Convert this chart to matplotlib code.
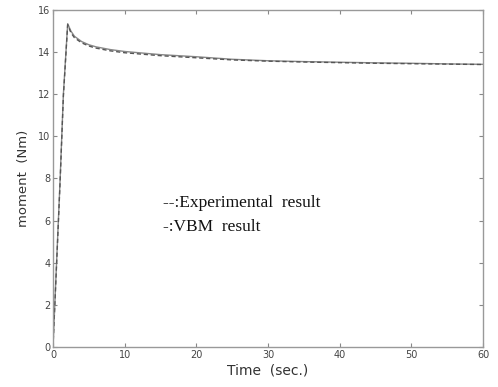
import matplotlib
matplotlib.use("Agg")
import matplotlib.pyplot as plt

t = [0, 0.5, 1.0, 1.45, 2.05, 2.5, 3, 4, 5, 6, 8, 10, 15, 20, 25, 30, 35, 40, 45, 50, 55, 60]
vbm = [0, 4.0, 8.0, 12.0, 15.35, 15.0, 14.75, 14.5, 14.35, 14.25, 14.12, 14.03, 13.88, 13.78, 13.66, 13.59, 13.55, 13.52, 13.49, 13.47, 13.44, 13.42]
exp_ = [0, 3.9, 7.9, 11.9, 15.3, 14.92, 14.68, 14.44, 14.29, 14.19, 14.06, 13.97, 13.83, 13.73, 13.63, 13.57, 13.53, 13.5, 13.47, 13.45, 13.43, 13.41]
xticks = [0, 10, 20, 30, 40, 50, 60]
yticks = [0, 2, 4, 6, 8, 10, 12, 14, 16]

fig = plt.figure(figsize=(4.98, 3.87), dpi=100)
ax = fig.add_axes([0.1064, 0.1034, 0.8635, 0.8708])
ax.plot(t, vbm, color="#888888", lw=1.0, ls="-")
ax.plot(t, exp_, color="#555555", lw=1.0, ls=(0, (3, 2)))
ax.set_xlim(0, 60)
ax.set_ylim(0, 16)
ax.set_xticks(xticks)
ax.set_yticks(yticks)
for s in ax.spines.values():
    s.set_color("#999999")
    s.set_linewidth(1.0)
ax.tick_params(direction="in", top=True, right=True, length=3, color="#888888",
               labelsize=7, labelcolor="#444444", pad=2)
ax.set_xlabel("Time  (sec.)", fontsize=10, color="#333333", labelpad=3)
ax.set_ylabel("moment  (Nm)", fontsize=9.5, color="#333333", labelpad=6)
ax.text(163 / 498, 1 - 203 / 387, "--:Experimental  result", transform=fig.transFigure,
        family="Liberation Serif", fontsize=12.5, va="center", ha="left", color="#111111")
ax.text(163 / 498, 1 - 227 / 387, "-:VBM  result", transform=fig.transFigure,
        family="Liberation Serif", fontsize=12.5, va="center", ha="left", color="#111111")
fig.savefig("out.png", dpi=100)
